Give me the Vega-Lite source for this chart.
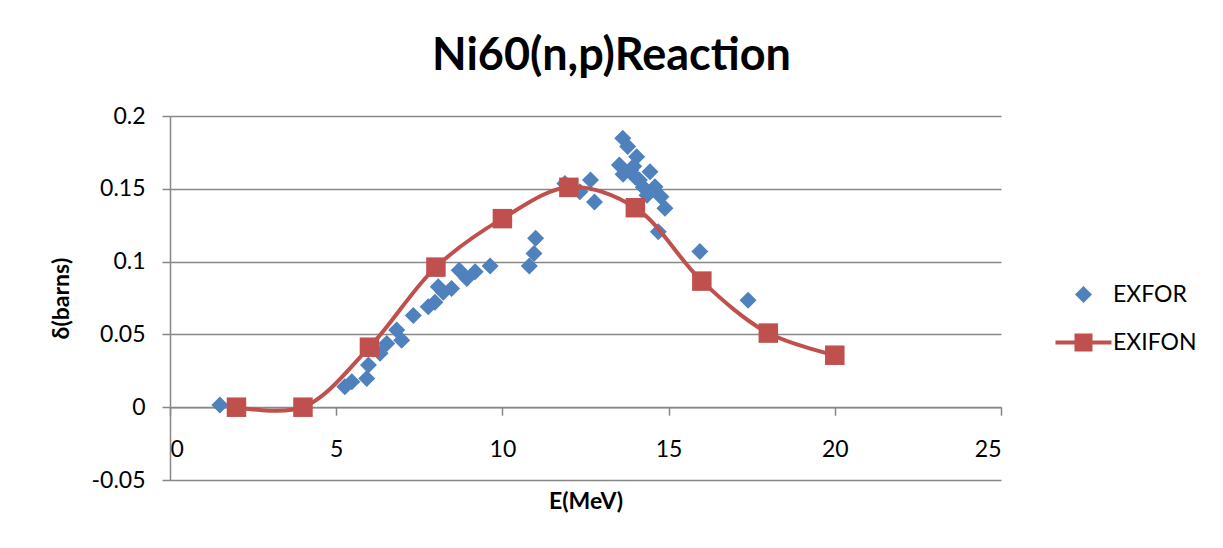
{
  "$schema": "https://vega.github.io/schema/vega-lite/v6.json",
  "width": 831,
  "height": 364,
  "autosize": "none",
  "padding": {"left": 170, "top": 116, "right": 222, "bottom": 68},
  "background": "white",
  "title": {
    "text": "Ni60(n,p)Reaction",
    "font": "Lato",
    "fontSize": 45,
    "fontWeight": "bold",
    "color": "black",
    "anchor": "middle",
    "frame": "group",
    "dx": 26,
    "offset": 26
  },
  "data": {
    "values": [
      {"series": "EXFOR", "E": 1.50, "sigma": 0.0015},
      {"series": "EXFOR", "E": 5.26, "sigma": 0.014},
      {"series": "EXFOR", "E": 5.47, "sigma": 0.0174},
      {"series": "EXFOR", "E": 5.92, "sigma": 0.0197},
      {"series": "EXFOR", "E": 5.97, "sigma": 0.0289},
      {"series": "EXFOR", "E": 6.32, "sigma": 0.037},
      {"series": "EXFOR", "E": 6.52, "sigma": 0.0438},
      {"series": "EXFOR", "E": 6.82, "sigma": 0.053},
      {"series": "EXFOR", "E": 6.97, "sigma": 0.046},
      {"series": "EXFOR", "E": 7.32, "sigma": 0.063},
      {"series": "EXFOR", "E": 7.77, "sigma": 0.069},
      {"series": "EXFOR", "E": 7.97, "sigma": 0.072},
      {"series": "EXFOR", "E": 8.07, "sigma": 0.0827},
      {"series": "EXFOR", "E": 8.22, "sigma": 0.079},
      {"series": "EXFOR", "E": 8.47, "sigma": 0.0815},
      {"series": "EXFOR", "E": 8.70, "sigma": 0.094},
      {"series": "EXFOR", "E": 8.93, "sigma": 0.0884},
      {"series": "EXFOR", "E": 9.18, "sigma": 0.093},
      {"series": "EXFOR", "E": 9.63, "sigma": 0.0969},
      {"series": "EXFOR", "E": 10.81, "sigma": 0.0969},
      {"series": "EXFOR", "E": 10.95, "sigma": 0.1056},
      {"series": "EXFOR", "E": 11.00, "sigma": 0.116},
      {"series": "EXFOR", "E": 11.88, "sigma": 0.1537},
      {"series": "EXFOR", "E": 12.10, "sigma": 0.151},
      {"series": "EXFOR", "E": 12.33, "sigma": 0.148},
      {"series": "EXFOR", "E": 12.65, "sigma": 0.156},
      {"series": "EXFOR", "E": 12.77, "sigma": 0.141},
      {"series": "EXFOR", "E": 13.62, "sigma": 0.1847},
      {"series": "EXFOR", "E": 13.77, "sigma": 0.179},
      {"series": "EXFOR", "E": 14.04, "sigma": 0.172},
      {"series": "EXFOR", "E": 13.52, "sigma": 0.1663},
      {"series": "EXFOR", "E": 13.63, "sigma": 0.160},
      {"series": "EXFOR", "E": 13.86, "sigma": 0.1625},
      {"series": "EXFOR", "E": 13.95, "sigma": 0.1655},
      {"series": "EXFOR", "E": 14.00, "sigma": 0.158},
      {"series": "EXFOR", "E": 14.12, "sigma": 0.156},
      {"series": "EXFOR", "E": 14.44, "sigma": 0.1617},
      {"series": "EXFOR", "E": 14.24, "sigma": 0.151},
      {"series": "EXFOR", "E": 14.35, "sigma": 0.1455},
      {"series": "EXFOR", "E": 14.59, "sigma": 0.1514},
      {"series": "EXFOR", "E": 14.77, "sigma": 0.1446},
      {"series": "EXFOR", "E": 14.89, "sigma": 0.1366},
      {"series": "EXFOR", "E": 14.69, "sigma": 0.1205},
      {"series": "EXFOR", "E": 15.94, "sigma": 0.107},
      {"series": "EXFOR", "E": 17.39, "sigma": 0.0735},
      {"series": "EXIFON", "E": 2, "sigma": 0.0},
      {"series": "EXIFON", "E": 4, "sigma": 0.0},
      {"series": "EXIFON", "E": 6, "sigma": 0.0412},
      {"series": "EXIFON", "E": 8, "sigma": 0.0962},
      {"series": "EXIFON", "E": 10, "sigma": 0.1295},
      {"series": "EXIFON", "E": 12, "sigma": 0.151},
      {"series": "EXIFON", "E": 14, "sigma": 0.137},
      {"series": "EXIFON", "E": 16, "sigma": 0.0866},
      {"series": "EXIFON", "E": 18, "sigma": 0.0509},
      {"series": "EXIFON", "E": 20, "sigma": 0.0357}
    ]
  },
  "encoding": {
    "x": {
      "field": "E",
      "type": "quantitative",
      "scale": {"domain": [0, 25], "nice": false, "zero": false},
      "axis": {
        "title": "E(MeV)",
        "values": [0, 5, 10, 15, 20, 25],
        "offset": -72.8,
        "grid": false,
        "domainColor": "#878787",
        "domainWidth": 1.5,
        "tickColor": "#878787",
        "tickWidth": 1.5,
        "tickSize": 8,
        "labelBaseline": "alphabetic",
        "labelPadding": 41,
        "labelFont": "Lato",
        "labelFontSize": 23,
        "labelColor": "black",
        "titleFont": "Lato",
        "titleFontSize": 23,
        "titleFontWeight": "bold",
        "titleColor": "black",
        "titleBaseline": "alphabetic",
        "titlePadding": 47
      }
    },
    "y": {
      "field": "sigma",
      "type": "quantitative",
      "scale": {"domain": [-0.05, 0.2], "nice": false, "zero": false},
      "axis": {
        "title": "δ(barns)",
        "values": [-0.05, 0, 0.05, 0.1, 0.15, 0.2],
        "format": ".2~f",
        "labelExpr": "replace(datum.label, '−', '-')",
        "grid": true,
        "gridColor": "#878787",
        "gridWidth": 1.5,
        "domainColor": "#878787",
        "domainWidth": 1.5,
        "tickColor": "#878787",
        "tickWidth": 1.5,
        "tickSize": 8,
        "labelPadding": 17,
        "labelFont": "Lato",
        "labelFontSize": 23,
        "labelColor": "black",
        "titleFont": "Lato",
        "titleFontSize": 23,
        "titleFontWeight": "bold",
        "titleColor": "black",
        "titlePadding": 18
      }
    }
  },
  "layer": [
    {
      "transform": [{"filter": "datum.series === 'EXFOR'"}],
      "mark": {"type": "point", "filled": true, "size": 400, "opacity": 1, "strokeWidth": 0},
      "encoding": {
        "color": {
          "field": "series",
          "type": "nominal",
          "scale": {"domain": ["EXFOR", "EXIFON"], "range": ["#4F81BD", "#C0504D"]},
          "legend": {
            "orient": "none",
            "legendX": 902,
            "legendY": 167,
            "title": null,
            "padding": 0,
            "labelFont": "Lato",
            "labelFontSize": 23,
            "labelColor": "black",
            "labelOffset": 18,
            "rowPadding": 24,
            "symbolSize": 400,
            "symbolStrokeWidth": 0,
            "symbolOpacity": 1
          }
        },
        "shape": {
          "field": "series",
          "type": "nominal",
          "scale": {
            "domain": ["EXFOR", "EXIFON"],
            "range": [
              "M-0.85,0L0,-0.85L0.85,0L0,0.85Z",
              "M-2.8,-0.2H-0.9V-0.9H0.9V-0.2H2.8V0.2H0.9V0.9H-0.9V0.2H-2.8Z"
            ]
          },
          "legend": {
            "orient": "none",
            "legendX": 902,
            "legendY": 167,
            "title": null,
            "padding": 0,
            "labelFont": "Lato",
            "labelFontSize": 23,
            "labelColor": "black",
            "labelOffset": 18,
            "rowPadding": 24,
            "symbolSize": 400,
            "symbolStrokeWidth": 0,
            "symbolOpacity": 1
          }
        }
      }
    },
    {
      "transform": [{"filter": "datum.series === 'EXIFON'"}],
      "mark": {"type": "line", "interpolate": "catmull-rom", "color": "#C0504D", "strokeWidth": 4},
      "encoding": {}
    },
    {
      "transform": [{"filter": "datum.series === 'EXIFON'"}],
      "mark": {"type": "point", "shape": "square", "filled": true, "size": 380, "opacity": 1, "color": "#C0504D", "strokeWidth": 0},
      "encoding": {}
    }
  ],
  "config": {
    "view": {"stroke": null},
    "font": "Lato"
  }
}
